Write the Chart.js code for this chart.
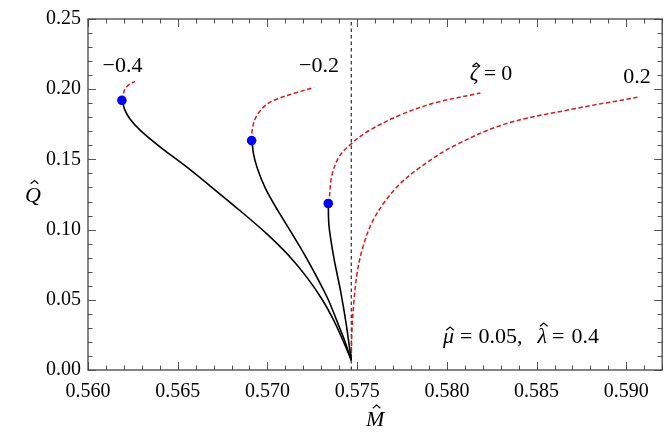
<!DOCTYPE html>
<html><head><meta charset="utf-8">
<script src="https://cdn.jsdelivr.net/npm/chart.js@4.4.1/dist/chart.umd.min.js"></script>
<style>html,body{margin:0;padding:0;background:#fff}</style>
</head><body>
<canvas id="c" width="667" height="448"></canvas>
<script>
// ---- tick values / labels ----
const xTickValues = [0.560, 0.565, 0.570, 0.575, 0.580, 0.585, 0.590];
const xTickLabels = ["0.560", "0.565", "0.570", "0.575", "0.580", "0.585", "0.590"];
const yTickValues = [0.00, 0.05, 0.10, 0.15, 0.20, 0.25];
const yTickLabels = ["0.00", "0.05", "0.10", "0.15", "0.20", "0.25"];

// ---- zeta = -0.4 ----
const solidM_m04 = [0.56192, 0.56204, 0.56235, 0.56290, 0.56401, 0.56539, 0.56695, 0.56861, 0.57000, 0.57121, 0.57221, 0.57304, 0.57371, 0.57421, 0.57467];
const solidQ_m04 = [0.1921, 0.1856, 0.1786, 0.1709, 0.1590, 0.1457, 0.1296, 0.1120, 0.0966, 0.0812, 0.0658, 0.0504, 0.0350, 0.0210, 0.0070];
const dashM_m04 = [0.56189, 0.56196, 0.56207, 0.56234, 0.56262];
const dashQ_m04 = [0.1921, 0.1961, 0.2003, 0.2038, 0.2054];

// ---- zeta = -0.2 ----
const solidM_m02 = [0.56914, 0.56922, 0.56944, 0.56988, 0.57055, 0.57133, 0.57205, 0.57277, 0.57338, 0.57387, 0.57432, 0.57467];
const solidQ_m02 = [0.1634, 0.1541, 0.1436, 0.1296, 0.1142, 0.0980, 0.0826, 0.0658, 0.0504, 0.0350, 0.0203, 0.0070];
const dashM_m02 = [0.56912, 0.56916, 0.56933, 0.56966, 0.57011, 0.57066, 0.57149, 0.57260];
const dashQ_m02 = [0.1634, 0.1716, 0.1793, 0.1856, 0.1905, 0.1936, 0.1971, 0.2012];

// ---- zeta = 0 ----
const solidM_0 = [0.57339, 0.57343, 0.57371, 0.57408, 0.57439, 0.57467];
const solidQ_0 = [0.1186, 0.1027, 0.0793, 0.0560, 0.0327, 0.0070];
const dashM_0 = [0.57343, 0.57358, 0.57399, 0.57467, 0.57565, 0.57749, 0.57935, 0.58187];
const dashQ_0 = [0.1186, 0.1378, 0.1518, 0.1611, 0.1704, 0.1821, 0.1903, 0.1973];

// ---- zeta = 0.2 ----
const dashM_p02 = [0.57467, 0.57471, 0.57482, 0.57501, 0.57532, 0.57582, 0.57649, 0.57732, 0.57843, 0.58026, 0.58322, 0.58692, 0.59062];
const dashQ_p02 = [0.0070, 0.0280, 0.0490, 0.0700, 0.0875, 0.1050, 0.1190, 0.1317, 0.1436, 0.1587, 0.1751, 0.1856, 0.1942];

// ---- critical points (blue) ----
const critM = [0.56189, 0.56912, 0.57339];
const critQ = [0.1921, 0.1634, 0.1186];

// ---- vertical reference line ----
const refM = 0.57467;
const refQ = [0.00, 0.25];

const zip = (xs, ys) => xs.map((x, i) => ({x: x, y: ys[i]}));

const BLACK = '#000000';
const RED = '#d7191c';
const FONT = '"Liberation Serif", "Times New Roman", serif';

function solid(xs, ys) {
  return {data: zip(xs, ys), showLine: true, borderColor: BLACK, borderWidth: 1.6, pointRadius: 0, tension: 0.3, fill: false};
}
function dashed(xs, ys) {
  return {data: zip(xs, ys), showLine: true, borderColor: RED, borderWidth: 1.5, borderDash: [4.5, 2.5], pointRadius: 0, tension: 0.35, fill: false};
}

// Chart.js draws the first dataset on top, so the dots come first
const datasets = [
  {data: zip(critM, critQ), showLine: false, pointRadius: 4.8, pointBackgroundColor: '#0000ff', pointBorderWidth: 0, pointBorderColor: '#0000ff'},
  solid(solidM_m04, solidQ_m04), dashed(dashM_m04, dashQ_m04),
  solid(solidM_m02, solidQ_m02), dashed(dashM_m02, dashQ_m02),
  solid(solidM_0, solidQ_0), dashed(dashM_0, dashQ_0),
  dashed(dashM_p02, dashQ_p02),
  {data: zip([refM, refM], refQ), showLine: true, borderColor: '#000', borderWidth: 1, borderDash: [3.5, 3], pointRadius: 0, tension: 0}
];

const frameAndText = {
  id: 'frameAndText',
  afterDraw(chart) {
    const {ctx, chartArea: a, scales} = chart;
    const xs = scales.x, ys = scales.y;
    ctx.save();
    // ticks, inward on all four sides
    ctx.strokeStyle = '#555';
    ctx.lineWidth = 1;
    ctx.beginPath();
    for (let i = 0; i <= 32; i++) {
      const v = 0.560 + i * 0.001;
      const px = Math.round(xs.getPixelForValue(v)) + 0.5;
      const len = (i % 5 === 0) ? 8 : 4.5;
      ctx.moveTo(px, a.bottom); ctx.lineTo(px, a.bottom - len);
      ctx.moveTo(px, a.top); ctx.lineTo(px, a.top + len);
    }
    for (let i = 0; i <= 25; i++) {
      const v = i * 0.01;
      const py = Math.round(ys.getPixelForValue(v)) + 0.5;
      const len = (i % 5 === 0) ? 8 : 4.5;
      ctx.moveTo(a.left, py); ctx.lineTo(a.left + len, py);
      ctx.moveTo(a.right, py); ctx.lineTo(a.right - len, py);
    }
    ctx.stroke();
    // frame
    ctx.strokeStyle = '#444';
    ctx.lineWidth = 1.3;
    ctx.strokeRect(a.left, a.top, a.right - a.left, a.bottom - a.top);

    ctx.fillStyle = '#000';
    ctx.textBaseline = 'alphabetic';
    ctx.textAlign = 'left';
    const S = 22;
    const upright = S + 'px ' + FONT;
    const italic = 'italic ' + S + 'px ' + FONT;
    function layout(parts) {
      let w = 0; const out = [];
      for (const p of parts) {
        if (typeof p === 'number') { w += p; continue; }
        ctx.font = p[1];
        const tw = ctx.measureText(p[0]).width;
        out.push({t: p[0], f: p[1], hat: p[2], x: w, w: tw});
        w += tw;
      }
      return {w, out};
    }
    function hat(cx, topY) {
      ctx.save();
      ctx.strokeStyle = '#000'; ctx.lineWidth = 1.2;
      ctx.beginPath();
      ctx.moveTo(cx - 3.8, topY + 3.2);
      ctx.lineTo(cx, topY);
      ctx.lineTo(cx + 3.8, topY + 3.2);
      ctx.stroke();
      ctx.restore();
    }
    function centered(parts, cx, y) {
      const L = layout(parts);
      const x0 = cx - L.w / 2;
      for (const o of L.out) {
        ctx.font = o.f; ctx.fillText(o.t, x0 + o.x, y);
        if (o.hat) hat(x0 + o.x + o.w / 2 + o.hat.dx, y + o.hat.dy);
      }
    }

    centered([['\u22120.4', upright]], 122.5, 72);
    centered([['\u22120.2', upright]], 319, 72);
    centered([['\u03B6', italic, {dx: 2, dy: -17}], 5, ['=', upright], 5, ['0', upright]], 491, 80);
    centered([['0.2', upright]], 637, 83);
    centered([['\u03BC', italic, {dx: 1.5, dy: -16}], 6, ['=', upright], 6, ['0.05,', upright], 15,
              ['\u03BB', italic, {dx: 1.5, dy: -20}], 5, ['=', upright], 7, ['0.4', upright]], 521, 343);

    // axis titles
    centered([['M', italic, {dx: 1.5, dy: -21}]], (a.left + a.right) / 2, 426);
    centered([['Q', italic, {dx: 1.5, dy: -21}]], 33, (a.top + a.bottom) / 2 + 7);
    ctx.restore();
  }
};

new Chart(document.getElementById('c'), {
  type: 'scatter',
  data: {datasets: datasets},
  options: {
    responsive: false,
    animation: false,
    devicePixelRatio: 1,
    layout: {padding: {top: 13, right: 1, left: 0, bottom: 0}},
    plugins: {legend: {display: false}, tooltip: {enabled: false}},
    scales: {
      x: {
        type: 'linear', min: 0.560, max: 0.592,
        grid: {display: false, drawTicks: false},
        border: {display: false},
        afterBuildTicks(s) { s.ticks = xTickValues.map(v => ({value: v})); },
        afterFit(s) { s.height = 78; },
        ticks: {
          autoSkip: false, maxRotation: 0, padding: 10, color: '#000',
          font: {family: FONT, size: 20},
          callback(v) { const i = xTickValues.findIndex(t => Math.abs(t - v) < 1e-9); return i >= 0 ? xTickLabels[i] : ''; }
        }
      },
      y: {
        type: 'linear', min: 0, max: 0.25,
        grid: {display: false, drawTicks: false},
        border: {display: false},
        afterBuildTicks(s) { s.ticks = yTickValues.map(v => ({value: v})); },
        afterFit(s) { s.width = 88; },
        ticks: {
          autoSkip: false, padding: 7, color: '#000',
          font: {family: FONT, size: 20},
          callback(v) { const i = yTickValues.findIndex(t => Math.abs(t - v) < 1e-9); return i >= 0 ? yTickLabels[i] : ''; }
        }
      }
    }
  },
  plugins: [frameAndText]
});
</script>
</body></html>
